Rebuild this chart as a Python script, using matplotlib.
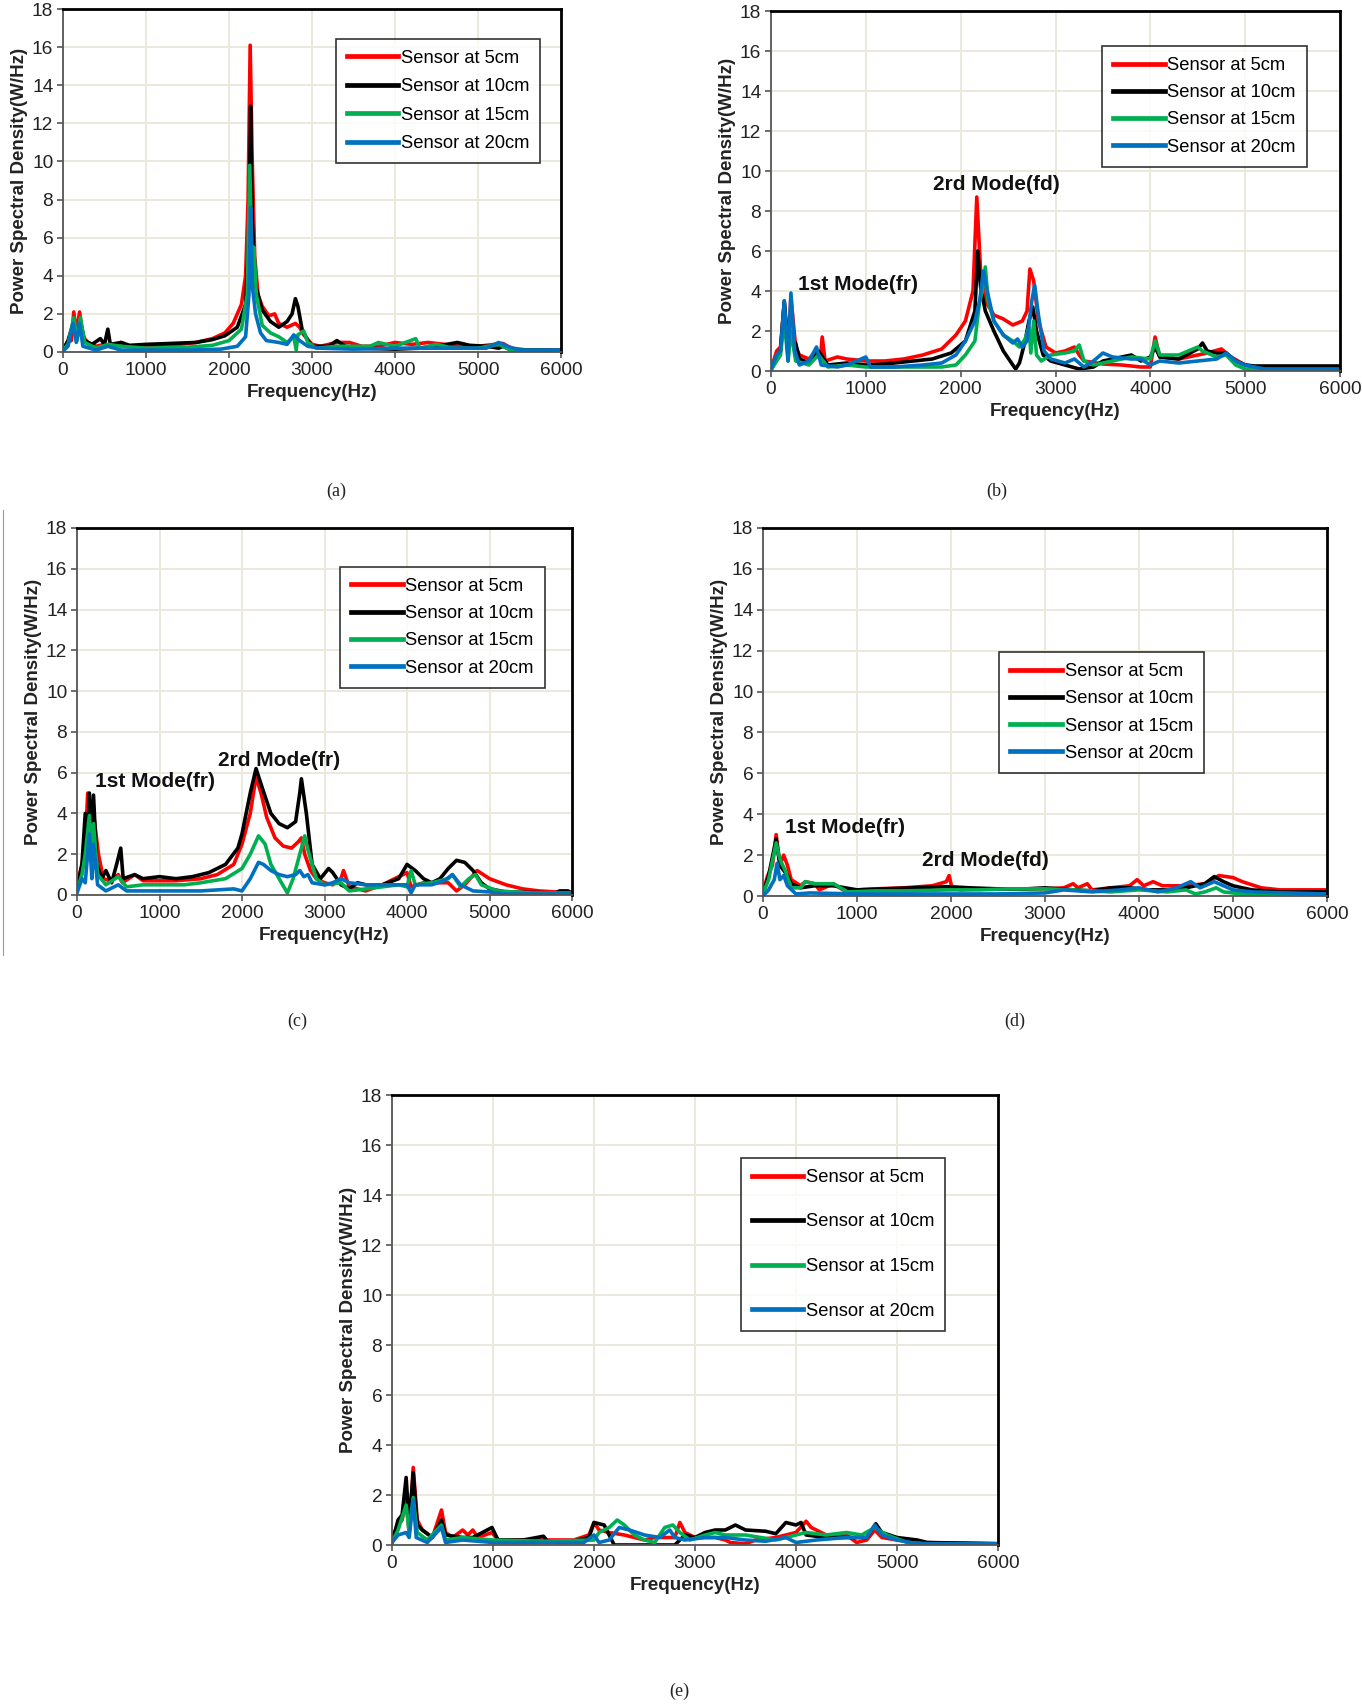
import numpy as np
import matplotlib
matplotlib.use("Agg")
import matplotlib.pyplot as plt
from matplotlib.lines import Line2D

plt.rcParams.update({
    'font.family': ['Liberation Sans', 'DejaVu Sans'],
    'font.size': 12,
    'axes.linewidth': 1.2,
})

SENSORS = ['Sensor at 5cm', 'Sensor at 10cm', 'Sensor at 15cm', 'Sensor at 20cm']
COLORS = ['#ff0000', '#000000', '#00b050', '#0070c0']

# (freq Hz, PSD), one list per sensor per panel
A_5 = [(0, 0.1), (50, 0.5), (100, 0.6), (130, 2.1), (160, 1.0), (200, 2.1), (240, 0.8), (300, 0.5), (400, 0.3),
       (500, 0.4), (600, 0.3), (700, 0.5), (800, 0.3), (1000, 0.35), (1200, 0.35), (1400, 0.4), (1600, 0.5),
       (1800, 0.7), (1950, 1.0), (2050, 1.5), (2150, 2.5), (2200, 4.0), (2230, 8.0), (2255, 16.1), (2280, 10.0),
       (2310, 5.0), (2350, 3.0), (2400, 2.4), (2480, 1.9), (2550, 2.0), (2600, 1.5), (2700, 1.3), (2750, 1.4),
       (2800, 1.5), (2850, 1.3), (2900, 0.9), (3000, 0.4), (3100, 0.3), (3300, 0.5), (3450, 0.5), (3600, 0.3),
       (3800, 0.3), (4000, 0.5), (4200, 0.4), (4400, 0.5), (4600, 0.4), (4800, 0.3), (5000, 0.3), (5200, 0.4),
       (5300, 0.45), (5400, 0.2), (5600, 0.1), (6000, 0.05)]
A_10 = [(0, 0.1), (60, 0.6), (130, 1.6), (170, 0.8), (210, 1.6), (260, 0.6), (350, 0.4), (450, 0.7), (500, 0.4),
        (540, 1.2), (570, 0.4), (700, 0.5), (800, 0.35), (1000, 0.4), (1300, 0.45), (1600, 0.5), (1800, 0.65),
        (1950, 0.85), (2100, 1.3), (2200, 2.5), (2240, 6.0), (2260, 12.9), (2280, 7.0), (2320, 3.5), (2400, 2.2),
        (2500, 1.6), (2600, 1.3), (2700, 1.6), (2760, 2.0), (2800, 2.8), (2830, 2.4), (2880, 1.2), (2950, 0.6),
        (3000, 0.3), (3200, 0.3), (3300, 0.6), (3400, 0.3), (3600, 0.2), (4000, 0.15), (4300, 0.2), (4500, 0.3),
        (4750, 0.5), (4900, 0.35), (5100, 0.3), (5250, 0.2), (5300, 0.3), (5400, 0.1), (6000, 0.1)]
A_15 = [(0, 0.1), (60, 0.4), (130, 1.8), (170, 0.6), (210, 1.8), (260, 0.5), (400, 0.2), (540, 0.4), (700, 0.3),
        (1000, 0.2), (1500, 0.25), (1800, 0.35), (2000, 0.6), (2150, 1.2), (2220, 3.0), (2250, 9.8), (2275, 5.0),
        (2300, 5.5), (2330, 3.0), (2400, 1.4), (2500, 1.0), (2600, 0.8), (2700, 0.5), (2780, 0.8), (2810, 0.1),
        (2830, 0.9), (2900, 1.1), (2950, 0.5), (3050, 0.2), (3300, 0.3), (3700, 0.3), (3800, 0.5), (4000, 0.3),
        (4250, 0.7), (4300, 0.2), (4500, 0.4), (4700, 0.2), (5000, 0.2), (5250, 0.4), (5400, 0.1), (6000, 0.05)]
A_20 = [(0, 0.05), (60, 0.3), (120, 1.5), (160, 0.5), (200, 1.5), (240, 0.3), (400, 0.1), (540, 0.3), (700, 0.1),
        (1000, 0.1), (1500, 0.1), (1900, 0.15), (2100, 0.3), (2200, 0.8), (2240, 3.0), (2260, 7.6), (2280, 3.5),
        (2320, 2.0), (2380, 1.0), (2450, 0.6), (2600, 0.5), (2700, 0.4), (2780, 0.9), (2850, 0.6), (2950, 0.3),
        (3100, 0.2), (3500, 0.15), (4000, 0.2), (4500, 0.2), (4800, 0.2), (5100, 0.2), (5250, 0.5), (5350, 0.3),
        (5500, 0.1), (6000, 0.1)]

B_5 = [(0, 0.1), (60, 1.0), (100, 1.2), (140, 3.4), (180, 1.0), (210, 3.7), (260, 1.2), (300, 0.8), (400, 0.6),
       (480, 1.0), (520, 0.6), (540, 1.7), (570, 0.5), (700, 0.7), (800, 0.6), (1000, 0.5), (1200, 0.5),
       (1400, 0.6), (1600, 0.8), (1800, 1.1), (1950, 1.8), (2050, 2.5), (2130, 4.0), (2170, 8.7), (2210, 5.0),
       (2260, 3.5), (2350, 2.8), (2450, 2.6), (2550, 2.3), (2650, 2.5), (2700, 3.0), (2730, 5.1), (2770, 4.5),
       (2820, 2.5), (2900, 1.2), (3000, 0.9), (3100, 1.0), (3200, 1.2), (3250, 0.8), (3300, 0.5), (3500, 0.35),
       (3700, 0.3), (3900, 0.2), (4000, 0.2), (4050, 1.7), (4100, 0.7), (4300, 0.6), (4500, 0.8), (4600, 0.9),
       (4750, 1.1), (4850, 0.7), (5000, 0.3), (5100, 0.2), (5200, 0.1), (6000, 0.1)]
B_10 = [(0, 0.05), (60, 0.6), (100, 1.0), (140, 3.5), (180, 1.2), (210, 1.4), (260, 1.4), (300, 0.6), (400, 0.4),
        (500, 1.0), (600, 0.3), (800, 0.4), (1000, 0.3), (1200, 0.35), (1500, 0.5), (1700, 0.6), (1900, 0.9),
        (2050, 1.5), (2150, 3.0), (2180, 6.0), (2210, 4.2), (2260, 3.0), (2350, 2.0), (2450, 1.0), (2550, 0.3),
        (2580, 0.1), (2620, 0.4), (2680, 1.5), (2720, 2.5), (2760, 3.2), (2800, 2.0), (2870, 0.8), (2950, 0.5),
        (3100, 0.3), (3250, 0.1), (3400, 0.2), (3500, 0.5), (3700, 0.7), (3800, 0.8), (3900, 0.5), (4000, 0.7),
        (4050, 1.2), (4100, 0.7), (4300, 0.6), (4500, 1.1), (4550, 1.4), (4600, 1.0), (4700, 0.9), (4800, 0.9),
        (4900, 0.5), (5000, 0.3), (5100, 0.25), (6000, 0.25)]
B_15 = [(0, 0.05), (100, 0.8), (140, 2.5), (180, 0.5), (210, 2.0), (260, 0.5), (400, 0.3), (500, 0.8), (600, 0.2),
        (800, 0.3), (1000, 0.2), (1500, 0.2), (1800, 0.2), (1950, 0.3), (2050, 0.8), (2150, 1.5), (2200, 3.5),
        (2230, 4.0), (2260, 5.2), (2290, 3.5), (2350, 2.5), (2450, 1.8), (2550, 1.5), (2620, 1.2), (2680, 1.6),
        (2720, 2.2), (2740, 0.9), (2770, 2.5), (2800, 0.8), (2850, 0.5), (2950, 0.8), (3100, 0.9), (3200, 1.0),
        (3250, 1.3), (3300, 0.5), (3400, 0.3), (3600, 0.5), (3800, 0.7), (4000, 0.6), (4050, 1.5), (4100, 0.8),
        (4300, 0.8), (4500, 1.2), (4550, 1.0), (4700, 0.7), (4800, 0.8), (4900, 0.3), (5000, 0.1), (6000, 0.0)]
B_20 = [(0, 0.1), (60, 0.8), (100, 1.0), (140, 3.5), (180, 0.5), (210, 3.9), (250, 1.0), (300, 0.3), (400, 0.5),
        (480, 1.2), (530, 0.3), (700, 0.2), (800, 0.3), (1000, 0.7), (1050, 0.2), (1300, 0.2), (1600, 0.3),
        (1800, 0.4), (1950, 0.8), (2050, 1.5), (2150, 2.5), (2200, 3.5), (2240, 5.0), (2280, 4.0), (2350, 2.5),
        (2450, 1.8), (2550, 1.4), (2600, 1.6), (2650, 1.2), (2700, 1.5), (2750, 3.5), (2780, 4.3), (2820, 2.8),
        (2880, 1.0), (2950, 0.6), (3100, 0.4), (3200, 0.6), (3300, 0.2), (3400, 0.5), (3500, 0.9), (3600, 0.7),
        (3800, 0.6), (3900, 0.6), (4000, 0.3), (4100, 0.5), (4300, 0.4), (4500, 0.5), (4700, 0.6), (4800, 0.9),
        (4900, 0.5), (5000, 0.3), (5200, 0.1), (6000, 0.1)]

C_5 = [(0, 0.5), (60, 1.5), (100, 2.5), (130, 5.0), (170, 2.0), (200, 4.0), (260, 2.0), (320, 0.8), (400, 0.7),
       (500, 1.0), (550, 0.6), (700, 1.0), (800, 0.7), (1000, 0.7), (1200, 0.7), (1500, 0.8), (1700, 1.0),
       (1900, 1.5), (2000, 2.5), (2100, 4.0), (2170, 5.8), (2230, 5.0), (2300, 3.8), (2400, 2.8), (2500, 2.4),
       (2600, 2.3), (2680, 2.6), (2720, 2.8), (2760, 2.0), (2830, 1.2), (2900, 0.8), (3000, 0.6), (3100, 0.5),
       (3200, 0.8), (3230, 1.2), (3300, 0.4), (3500, 0.2), (3700, 0.5), (3900, 0.9), (4000, 1.1), (4050, 0.4),
       (4200, 0.6), (4400, 0.6), (4500, 0.6), (4600, 0.2), (4700, 0.5), (4850, 1.2), (5000, 0.8), (5200, 0.5),
       (5400, 0.3), (5600, 0.2), (6000, 0.1)]
C_10 = [(0, 0.3), (60, 1.5), (100, 4.0), (130, 2.5), (150, 5.0), (180, 2.0), (200, 4.9), (240, 1.5), (300, 0.8),
        (350, 1.2), (420, 0.6), (480, 1.5), (530, 2.3), (560, 0.8), (700, 1.0), (800, 0.8), (1000, 0.9),
        (1200, 0.8), (1400, 0.9), (1600, 1.1), (1800, 1.5), (1950, 2.3), (2000, 3.0), (2100, 5.0), (2170, 6.2),
        (2250, 5.2), (2350, 4.0), (2450, 3.5), (2550, 3.3), (2650, 3.6), (2700, 5.0), (2720, 5.7), (2780, 4.0),
        (2850, 1.5), (2950, 0.8), (3050, 1.3), (3100, 1.1), (3200, 0.5), (3300, 0.3), (3400, 0.6), (3500, 0.5),
        (3700, 0.5), (3900, 0.8), (4000, 1.5), (4100, 1.2), (4200, 0.8), (4300, 0.6), (4400, 0.8), (4500, 1.3),
        (4600, 1.7), (4700, 1.6), (4800, 1.2), (4900, 0.6), (5000, 0.3), (5200, 0.15), (5800, 0.1), (5850, 0.2),
        (5950, 0.2), (6000, 0.1)]
C_15 = [(0, 0.2), (60, 1.0), (100, 2.0), (150, 3.9), (180, 1.5), (200, 3.5), (250, 1.0), (350, 0.5), (500, 0.9),
        (600, 0.4), (800, 0.5), (1000, 0.5), (1300, 0.5), (1500, 0.6), (1800, 0.8), (2000, 1.3), (2100, 2.0),
        (2200, 2.9), (2280, 2.5), (2350, 1.5), (2450, 0.8), (2550, 0.1), (2620, 0.8), (2700, 2.0), (2760, 2.9),
        (2800, 2.2), (2900, 0.8), (3000, 0.5), (3200, 0.6), (3300, 0.2), (3500, 0.3), (3700, 0.4), (3900, 0.5),
        (4000, 0.4), (4050, 1.2), (4100, 0.5), (4300, 0.6), (4500, 0.8), (4550, 1.0), (4650, 0.4), (4750, 0.8),
        (4830, 1.0), (4900, 0.5), (5100, 0.2), (5500, 0.1), (6000, 0.1)]
C_20 = [(0, 0.1), (60, 0.8), (100, 0.6), (150, 3.0), (180, 0.8), (200, 2.5), (250, 0.5), (350, 0.2), (500, 0.5),
        (600, 0.2), (1000, 0.2), (1500, 0.2), (1900, 0.3), (2000, 0.2), (2100, 0.8), (2200, 1.6), (2260, 1.5),
        (2350, 1.2), (2450, 1.0), (2550, 0.9), (2650, 1.0), (2700, 1.2), (2750, 0.9), (2800, 1.0), (2850, 0.6),
        (3000, 0.5), (3100, 0.6), (3200, 0.8), (3300, 0.6), (3500, 0.5), (3700, 0.5), (3900, 0.5), (4000, 0.5),
        (4050, 0.1), (4100, 0.5), (4300, 0.5), (4450, 0.7), (4550, 1.0), (4650, 0.5), (4800, 0.2), (5000, 0.15),
        (5200, 0.05), (6000, 0.05)]

D_5 = [(0, 0.2), (50, 1.0), (100, 1.5), (140, 3.0), (180, 1.5), (220, 2.0), (260, 1.5), (300, 0.8), (400, 0.5),
       (450, 0.7), (550, 0.6), (600, 0.3), (750, 0.6), (850, 0.3), (1000, 0.3), (1200, 0.35), (1500, 0.4),
       (1800, 0.5), (1950, 0.7), (1980, 1.0), (2010, 0.4), (2100, 0.3), (2300, 0.35), (2600, 0.35), (3000, 0.35),
       (3200, 0.4), (3300, 0.6), (3350, 0.4), (3450, 0.6), (3500, 0.3), (3700, 0.4), (3900, 0.5), (3980, 0.8),
       (4050, 0.5), (4150, 0.7), (4250, 0.5), (4500, 0.5), (4700, 0.6), (4850, 1.0), (5000, 0.9), (5100, 0.7),
       (5300, 0.4), (5500, 0.3), (6000, 0.3)]
D_10 = [(0, 0.1), (60, 1.0), (140, 2.8), (180, 1.5), (260, 1.0), (300, 0.6), (400, 0.4), (550, 0.5), (750, 0.5),
        (1000, 0.3), (1300, 0.35), (1600, 0.4), (1900, 0.45), (2000, 0.45), (2200, 0.4), (2500, 0.35),
        (2800, 0.35), (3000, 0.4), (3300, 0.3), (3500, 0.25), (3700, 0.4), (3900, 0.4), (4100, 0.3), (4400, 0.3),
        (4600, 0.5), (4700, 0.6), (4800, 0.95), (4900, 0.7), (5000, 0.5), (5200, 0.3), (5500, 0.2), (6000, 0.2)]
D_15 = [(0, 0.1), (60, 0.8), (140, 2.6), (180, 1.8), (240, 1.2), (300, 0.4), (400, 0.4), (450, 0.7), (550, 0.6),
        (750, 0.6), (900, 0.2), (1200, 0.25), (1500, 0.25), (2000, 0.3), (2300, 0.3), (2600, 0.35), (3000, 0.35),
        (3300, 0.3), (3700, 0.2), (4000, 0.3), (4300, 0.2), (4500, 0.3), (4600, 0.1), (4700, 0.2), (4820, 0.4),
        (4900, 0.2), (5100, 0.1), (5700, 0.1), (6000, 0.1)]
D_20 = [(0, 0.0), (60, 0.3), (120, 0.8), (150, 1.6), (180, 0.8), (220, 1.0), (260, 0.5), (350, 0.1), (500, 0.15),
        (1000, 0.1), (1500, 0.1), (2000, 0.1), (2500, 0.1), (3000, 0.15), (3200, 0.3), (3500, 0.2), (3800, 0.3),
        (4000, 0.4), (4200, 0.2), (4400, 0.4), (4550, 0.7), (4650, 0.4), (4800, 0.7), (4900, 0.5), (5000, 0.3),
        (5200, 0.2), (6000, 0.1)]

E_5 = [(0, 0.3), (60, 0.8), (100, 1.0), (140, 1.8), (170, 0.5), (210, 3.1), (250, 1.0), (300, 0.6), (400, 0.3),
       (490, 1.4), (530, 0.5), (600, 0.3), (700, 0.6), (750, 0.4), (800, 0.6), (850, 0.3), (990, 0.5), (1050, 0.2),
       (1500, 0.2), (1800, 0.2), (1950, 0.4), (2000, 0.9), (2050, 0.6), (2150, 0.5), (2300, 0.4), (2400, 0.3),
       (2500, 0.2), (2600, 0.3), (2800, 0.3), (2850, 0.9), (2900, 0.5), (3000, 0.3), (3200, 0.3), (3300, 0.2),
       (3350, 0.1), (3500, 0.05), (3600, 0.2), (3800, 0.3), (4000, 0.5), (4100, 0.95), (4150, 0.7), (4300, 0.4),
       (4500, 0.4), (4600, 0.1), (4700, 0.2), (4780, 0.6), (4850, 0.3), (5000, 0.2), (5200, 0.1), (6000, 0.05)]
E_10 = [(0, 0.1), (60, 1.0), (100, 1.2), (140, 2.7), (170, 0.8), (210, 2.9), (250, 0.8), (300, 0.6), (400, 0.3),
        (490, 1.0), (530, 0.4), (700, 0.3), (800, 0.3), (990, 0.7), (1050, 0.2), (1300, 0.2), (1500, 0.35),
        (1550, 0.1), (1800, 0.15), (1950, 0.3), (2000, 0.9), (2100, 0.8), (2150, 0.4), (2200, 0.0), (2500, 0.0),
        (2800, 0.0), (2900, 0.4), (3000, 0.3), (3100, 0.5), (3200, 0.6), (3300, 0.6), (3400, 0.8), (3500, 0.6),
        (3700, 0.55), (3800, 0.45), (3900, 0.9), (4000, 0.8), (4050, 0.9), (4100, 0.4), (4300, 0.3), (4500, 0.3),
        (4700, 0.3), (4790, 0.85), (4850, 0.5), (5000, 0.3), (5200, 0.2), (5300, 0.1), (6000, 0.05)]
E_15 = [(0, 0.1), (60, 0.6), (140, 1.6), (170, 0.5), (210, 1.9), (250, 0.5), (350, 0.2), (490, 0.8), (530, 0.2),
        (700, 0.3), (1000, 0.2), (1500, 0.15), (2000, 0.2), (2050, 0.5), (2150, 0.7), (2230, 1.0), (2300, 0.8),
        (2400, 0.4), (2500, 0.2), (2600, 0.1), (2700, 0.7), (2780, 0.8), (2850, 0.5), (2950, 0.2), (3100, 0.4),
        (3200, 0.5), (3300, 0.4), (3500, 0.4), (3800, 0.2), (4000, 0.4), (4100, 0.5), (4300, 0.4), (4500, 0.5),
        (4650, 0.4), (4780, 0.7), (4900, 0.4), (5100, 0.1), (5300, 0.05), (6000, 0.05)]
E_20 = [(0, 0.1), (60, 0.4), (140, 0.5), (170, 0.3), (210, 1.8), (240, 0.3), (350, 0.1), (490, 0.7), (530, 0.1),
        (700, 0.2), (1000, 0.1), (1500, 0.1), (1900, 0.1), (2000, 0.4), (2050, 0.1), (2150, 0.2), (2250, 0.7),
        (2350, 0.6), (2500, 0.4), (2650, 0.3), (2750, 0.6), (2800, 0.3), (2900, 0.2), (3100, 0.3), (3300, 0.3),
        (3500, 0.2), (3700, 0.15), (3900, 0.3), (4000, 0.1), (4200, 0.2), (4500, 0.3), (4700, 0.3), (4780, 0.8),
        (4850, 0.4), (5000, 0.2), (5200, 0.05), (6000, 0.05)]

PANELS = [
    # traces, axes box in pixels (left, top, right, bottom), legend anchor, labelspacing, caption
    ([A_5, A_10, A_15, A_20], (63, 9, 561, 352), (0.958, 0.913), 0.62, '(a)', (336, 491)),
    ([B_5, B_10, B_15, B_20], (771, 11, 1340, 371), (0.942, 0.903), 0.56, '(b)', (997, 491)),
    ([C_5, C_10, C_15, C_20], (77, 528, 572, 895), (0.945, 0.894), 0.56, '(c)', (297, 1021)),
    ([D_5, D_10, D_15, D_20], (763, 528, 1327, 896), (0.782, 0.663), 0.56, '(d)', (1015, 1021)),
    ([E_5, E_10, E_15, E_20], (392, 1095, 998, 1545), (0.913, 0.86), 1.5, '(e)', (679, 1691)),
]

# mode labels: panel index, text, x (Hz), y
MODE_LABELS = [
    (1, '1st Mode(fr)', 286, 4.3), (1, '2rd Mode(fd)', 1706, 9.35),
    (2, '1st Mode(fr)', 224, 5.55), (2, '2rd Mode(fr)', 1714, 6.62),
    (3, '1st Mode(fr)', 231, 3.36), (3, '2rd Mode(fd)', 1688, 1.76),
]

W, H = 1362, 1704
fig = plt.figure(figsize=(W / 100, H / 100), dpi=100)

axes = []
for traces, (l, t, r, b), anchor, lspace, cap, (cx, cy) in PANELS:
    ax = fig.add_axes([l / W, 1 - b / H, (r - l) / W, (b - t) / H])
    axes.append(ax)
    for pts, color, name in zip(traces, COLORS, SENSORS):
        f = [p[0] for p in pts]
        v = [p[1] for p in pts]
        ax.plot(f, v, color=color, lw=2.6, label=name, solid_joinstyle='round')
    ax.set_xlim(0, 6000)
    ax.set_ylim(0, 18)
    ax.set_xticks(np.arange(0, 6001, 1000))
    ax.set_yticks(np.arange(0, 19, 2))
    ax.grid(True, color='#ebe8dc', lw=1.4)
    ax.set_axisbelow(True)
    for side in ['top', 'right']:
        ax.spines[side].set_color('black')
        ax.spines[side].set_linewidth(2.0)
    for side in ['left', 'bottom']:
        ax.spines[side].set_color('#555555')
        ax.spines[side].set_linewidth(1.3)
    ax.tick_params(direction='out', length=4, width=1.2, color='#555555', labelsize=13.8,
                   labelcolor='#222222', pad=3)
    ax.set_xlabel('Frequency(Hz)', fontsize=13.6, fontweight='bold', color='#222222', labelpad=4)
    ax.set_ylabel('Power Spectral Density(W/Hz)', fontsize=13.5, fontweight='bold', color='#222222', labelpad=3)
    leg = ax.legend(loc='upper right', bbox_to_anchor=anchor, fontsize=13.2, frameon=True, fancybox=False,
                    edgecolor='black', handlelength=2.8, handletextpad=0.15, labelspacing=lspace,
                    borderpad=0.6, borderaxespad=0)
    leg.get_frame().set_linewidth(1.2)
    for line in leg.get_lines():
        line.set_linewidth(3.4)
    fig.text(cx / W, 1 - cy / H, cap, ha='center', va='center', fontsize=13,
             family=['Liberation Serif', 'DejaVu Serif'], color='#222222')

for idx, txt, x, y in MODE_LABELS:
    axes[idx].text(x, y, txt, ha='left', va='center', fontsize=15, fontweight='bold', color='#111111')

# thin separator at the left edge of panel (c)
fig.add_artist(Line2D([3 / W, 3 / W], [1 - 510 / H, 1 - 955 / H], color='#999999', lw=0.8))

fig.savefig('out.png', dpi=100)
